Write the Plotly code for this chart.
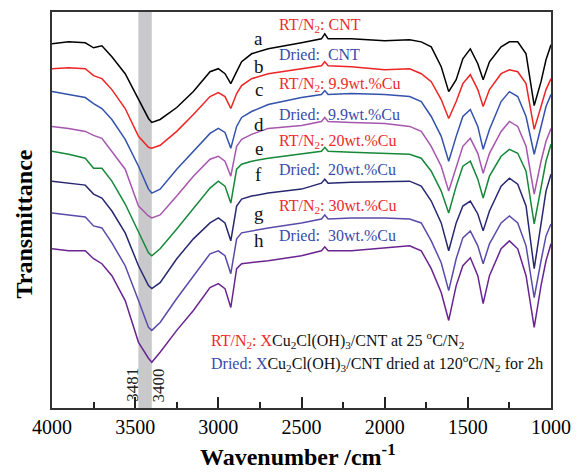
import plotly.graph_objects as go

# FTIR spectra of Cu2Cl(OH)3/CNT samples (stacked, arbitrary transmittance units)
wavenumber = [4000, 3900, 3800, 3750, 3700, 3640, 3560, 3480, 3420, 3400,
              3350, 3250, 3150, 3050, 3000, 2960, 2925, 2890, 2860, 2800,
              2700, 2500, 2380, 2360, 2340, 2200, 2000, 1850, 1780, 1720,
              1660, 1615, 1570, 1530, 1485, 1440, 1408, 1370, 1300, 1250,
              1200, 1150, 1101, 1060, 1030, 1000]

spec_a = [358, 360, 359, 354, 356, 345, 328, 303, 283, 279,
          282, 294, 310, 330, 333, 328, 318, 330, 340, 348,
          353, 359, 363, 368, 363, 363, 361, 362, 360, 355,
          335, 310, 322, 343, 353, 338, 322, 340, 355, 360,
          360, 348, 296, 320, 342, 357]
spec_b = [333, 334, 333, 326, 323, 312, 293, 265, 254, 253,
          256, 270, 287, 305, 309, 305, 293, 308, 316, 323,
          328, 333, 336, 340, 336, 335, 332, 333, 328, 320,
          302, 283, 300, 318, 327, 312, 295, 312, 328, 332,
          330, 318, 272, 295, 312, 323]
spec_c = [310, 307, 304, 298, 293, 282, 262, 235, 212, 208,
          212, 232, 250, 268, 273, 269, 253, 275, 284, 290,
          297, 304, 307, 311, 307, 308, 307, 305, 300, 285,
          265, 240, 265, 285, 292, 275, 252, 272, 300, 310,
          305, 285, 247, 275, 295, 307]
spec_d = [275, 273, 270, 266, 263, 250, 232, 195, 185, 183,
          186, 205, 225, 242, 245, 240, 225, 255, 262, 267,
          273, 276, 280, 284, 280, 279, 278, 275, 270, 255,
          235, 210, 235, 255, 263, 248, 228, 248, 270, 280,
          275, 255, 207, 240, 260, 273]
spec_e = [250, 247, 243, 233, 233, 220, 197, 168, 148, 145,
          152, 172, 192, 213, 220, 215, 198, 232, 237, 240,
          243, 247, 250, 254, 250, 249, 248, 247, 243, 230,
          210, 188, 215, 235, 240, 222, 203, 225, 245, 252,
          248, 230, 177, 215, 240, 257]
spec_f = [220, 218, 216, 207, 203, 190, 168, 135, 115, 112,
          118, 142, 162, 178, 183, 178, 160, 195, 202, 205,
          208, 212, 218, 222, 218, 219, 220, 220, 215, 200,
          178, 150, 178, 195, 200, 187, 170, 190, 215, 223,
          217, 195, 132, 180, 210, 227]
spec_g = [188, 186, 184, 175, 173, 158, 135, 100, 73, 70,
          78, 102, 125, 147, 150, 145, 127, 162, 168, 170,
          173, 178, 182, 186, 182, 183, 183, 182, 178, 160,
          138, 110, 142, 163, 170, 155, 137, 157, 178, 185,
          178, 155, 103, 140, 165, 177]
spec_h = [152, 150, 150, 142, 137, 125, 100, 58, 42, 38,
          48, 70, 90, 113, 117, 112, 93, 132, 137, 138,
          140, 145, 150, 154, 150, 150, 153, 155, 150, 132,
          108, 80, 115, 135, 143, 125, 97, 125, 152, 160,
          152, 125, 73, 115, 140, 157]

curve_letters = ["a", "b", "c", "d", "e", "f", "g", "h"]
curve_colors = ["#000000", "#ee2424", "#3352ac", "#a656ae",
                "#16883a", "#282872", "#5a4aaa", "#6a2490"]
curves = [spec_a, spec_b, spec_c, spec_d, spec_e, spec_f, spec_g, spec_h]

sample_labels = ["RT/N<sub>2</sub>: CNT", "Dried:\u00a0 CNT",
                 "RT/N<sub>2</sub>: 9.9wt.%Cu", "Dried:\u00a0 9.9wt.%Cu",
                 "RT/N<sub>2</sub>: 20wt.%Cu", "Dried:\u00a0 20wt.%Cu",
                 "RT/N<sub>2</sub>: 30wt.%Cu", "Dried:\u00a0 30wt.%Cu"]
sample_label_y = [0.967, 0.892, 0.817, 0.741, 0.673, 0.603, 0.510, 0.435]
letter_y = [0.932, 0.862, 0.804, 0.716, 0.656, 0.590, 0.492, 0.422]

band_edges = [3481, 3400]
x_ticks = [4000, 3500, 3000, 2500, 2000, 1500, 1000]

RED = "#ee2a2a"
BLUE = "#3a4cab"
SERIF = "Liberation Serif, Times New Roman, serif"

fig = go.Figure()
for name, ys, col in zip(curve_letters, curves, curve_colors):
    fig.add_trace(go.Scatter(x=wavenumber, y=ys, mode="lines", name=name,
                             line=dict(color=col, width=1.5)))

# highlighted O-H band
fig.add_shape(type="rect", xref="x", yref="paper", x0=band_edges[0], x1=band_edges[1],
              y0=0, y1=1, fillcolor="#c9c9cc", line=dict(width=0), layer="below")

ann = []
for lbl, xx in zip(band_edges, [3521, 3361]):
    ann.append(dict(x=xx, y=15, xref="x", yref="y", text=str(lbl), textangle=-90,
                    xanchor="center", yanchor="middle",
                    showarrow=False, font=dict(family=SERIF, size=17, color="#222")))

for letter, yy in zip(curve_letters, letter_y):
    ann.append(dict(x=0.414, y=yy, xref="paper", yref="paper", text=letter,
                    xanchor="center", yanchor="middle",
                    showarrow=False, font=dict(family=SERIF, size=19, color="#111")))

for i, (txt, yy) in enumerate(zip(sample_labels, sample_label_y)):
    ann.append(dict(x=0.45, y=yy, xref="paper", yref="paper", text=txt,
                    xanchor="left", yanchor="middle", showarrow=False,
                    font=dict(family=SERIF, size=16, color=RED if i % 2 == 0 else BLUE)))

ann.append(dict(x=0.3156, y=0.171, xref="paper", yref="paper", xanchor="left",
                yanchor="middle", showarrow=False,
                font=dict(family=SERIF, size=16, color="#111"),
                text=f"<span style='color:{RED}'>RT/N<sub>2</sub>: X</span>"
                     "Cu<sub>2</sub>Cl(OH)<sub>3</sub>/CNT at 25 <sup>o</sup>C/N<sub>2</sub>"))
ann.append(dict(x=0.3156, y=0.113, xref="paper", yref="paper", xanchor="left",
                yanchor="middle", showarrow=False,
                font=dict(family=SERIF, size=16, color="#111"),
                text=f"<span style='color:{BLUE}'>Dried: X</span>"
                     "Cu<sub>2</sub>Cl(OH)<sub>3</sub>/CNT dried at 120<sup>o</sup>C/N<sub>2</sub> for 2h"))

# axis titles
ann.append(dict(x=0.493, y=-0.118, xref="paper", yref="paper", showarrow=False,
                xanchor="center", yanchor="middle",
                text="<b>Wavenumber /cm<sup>-1</sup></b>",
                font=dict(family=SERIF, size=24, color="#000")))
ann.append(dict(x=-0.057, y=0.465, xref="paper", yref="paper", showarrow=False,
                xanchor="center", yanchor="middle",
                text="<b>Transmittance</b>", textangle=-90,
                font=dict(family=SERIF, size=24, color="#000")))

fig.update_layout(
    width=581, height=473,
    margin=dict(l=52, r=22, t=10, b=65),
    paper_bgcolor="white", plot_bgcolor="white",
    showlegend=False,
    annotations=ann,
    xaxis=dict(range=[4000, 1000], tickvals=x_ticks, ticktext=[str(t) for t in x_ticks],
               ticks="inside", ticklen=11, tickwidth=1.8, tickcolor="#222",
               showline=True, linecolor="#333", linewidth=2, mirror=True,
               showgrid=False, zeroline=False,
               tickfont=dict(family=SERIF, size=20, color="#000"),
               minor=dict(ticks="inside", ticklen=6, dtick=250, tick0=0,
                          tickwidth=1.5, tickcolor="#222", showgrid=False)),
    yaxis=dict(range=[-8, 390], showticklabels=False, ticks="",
               showline=True, linecolor="#333", linewidth=2, mirror=True,
               showgrid=False, zeroline=False),
)

fig.write_html("out.html")
